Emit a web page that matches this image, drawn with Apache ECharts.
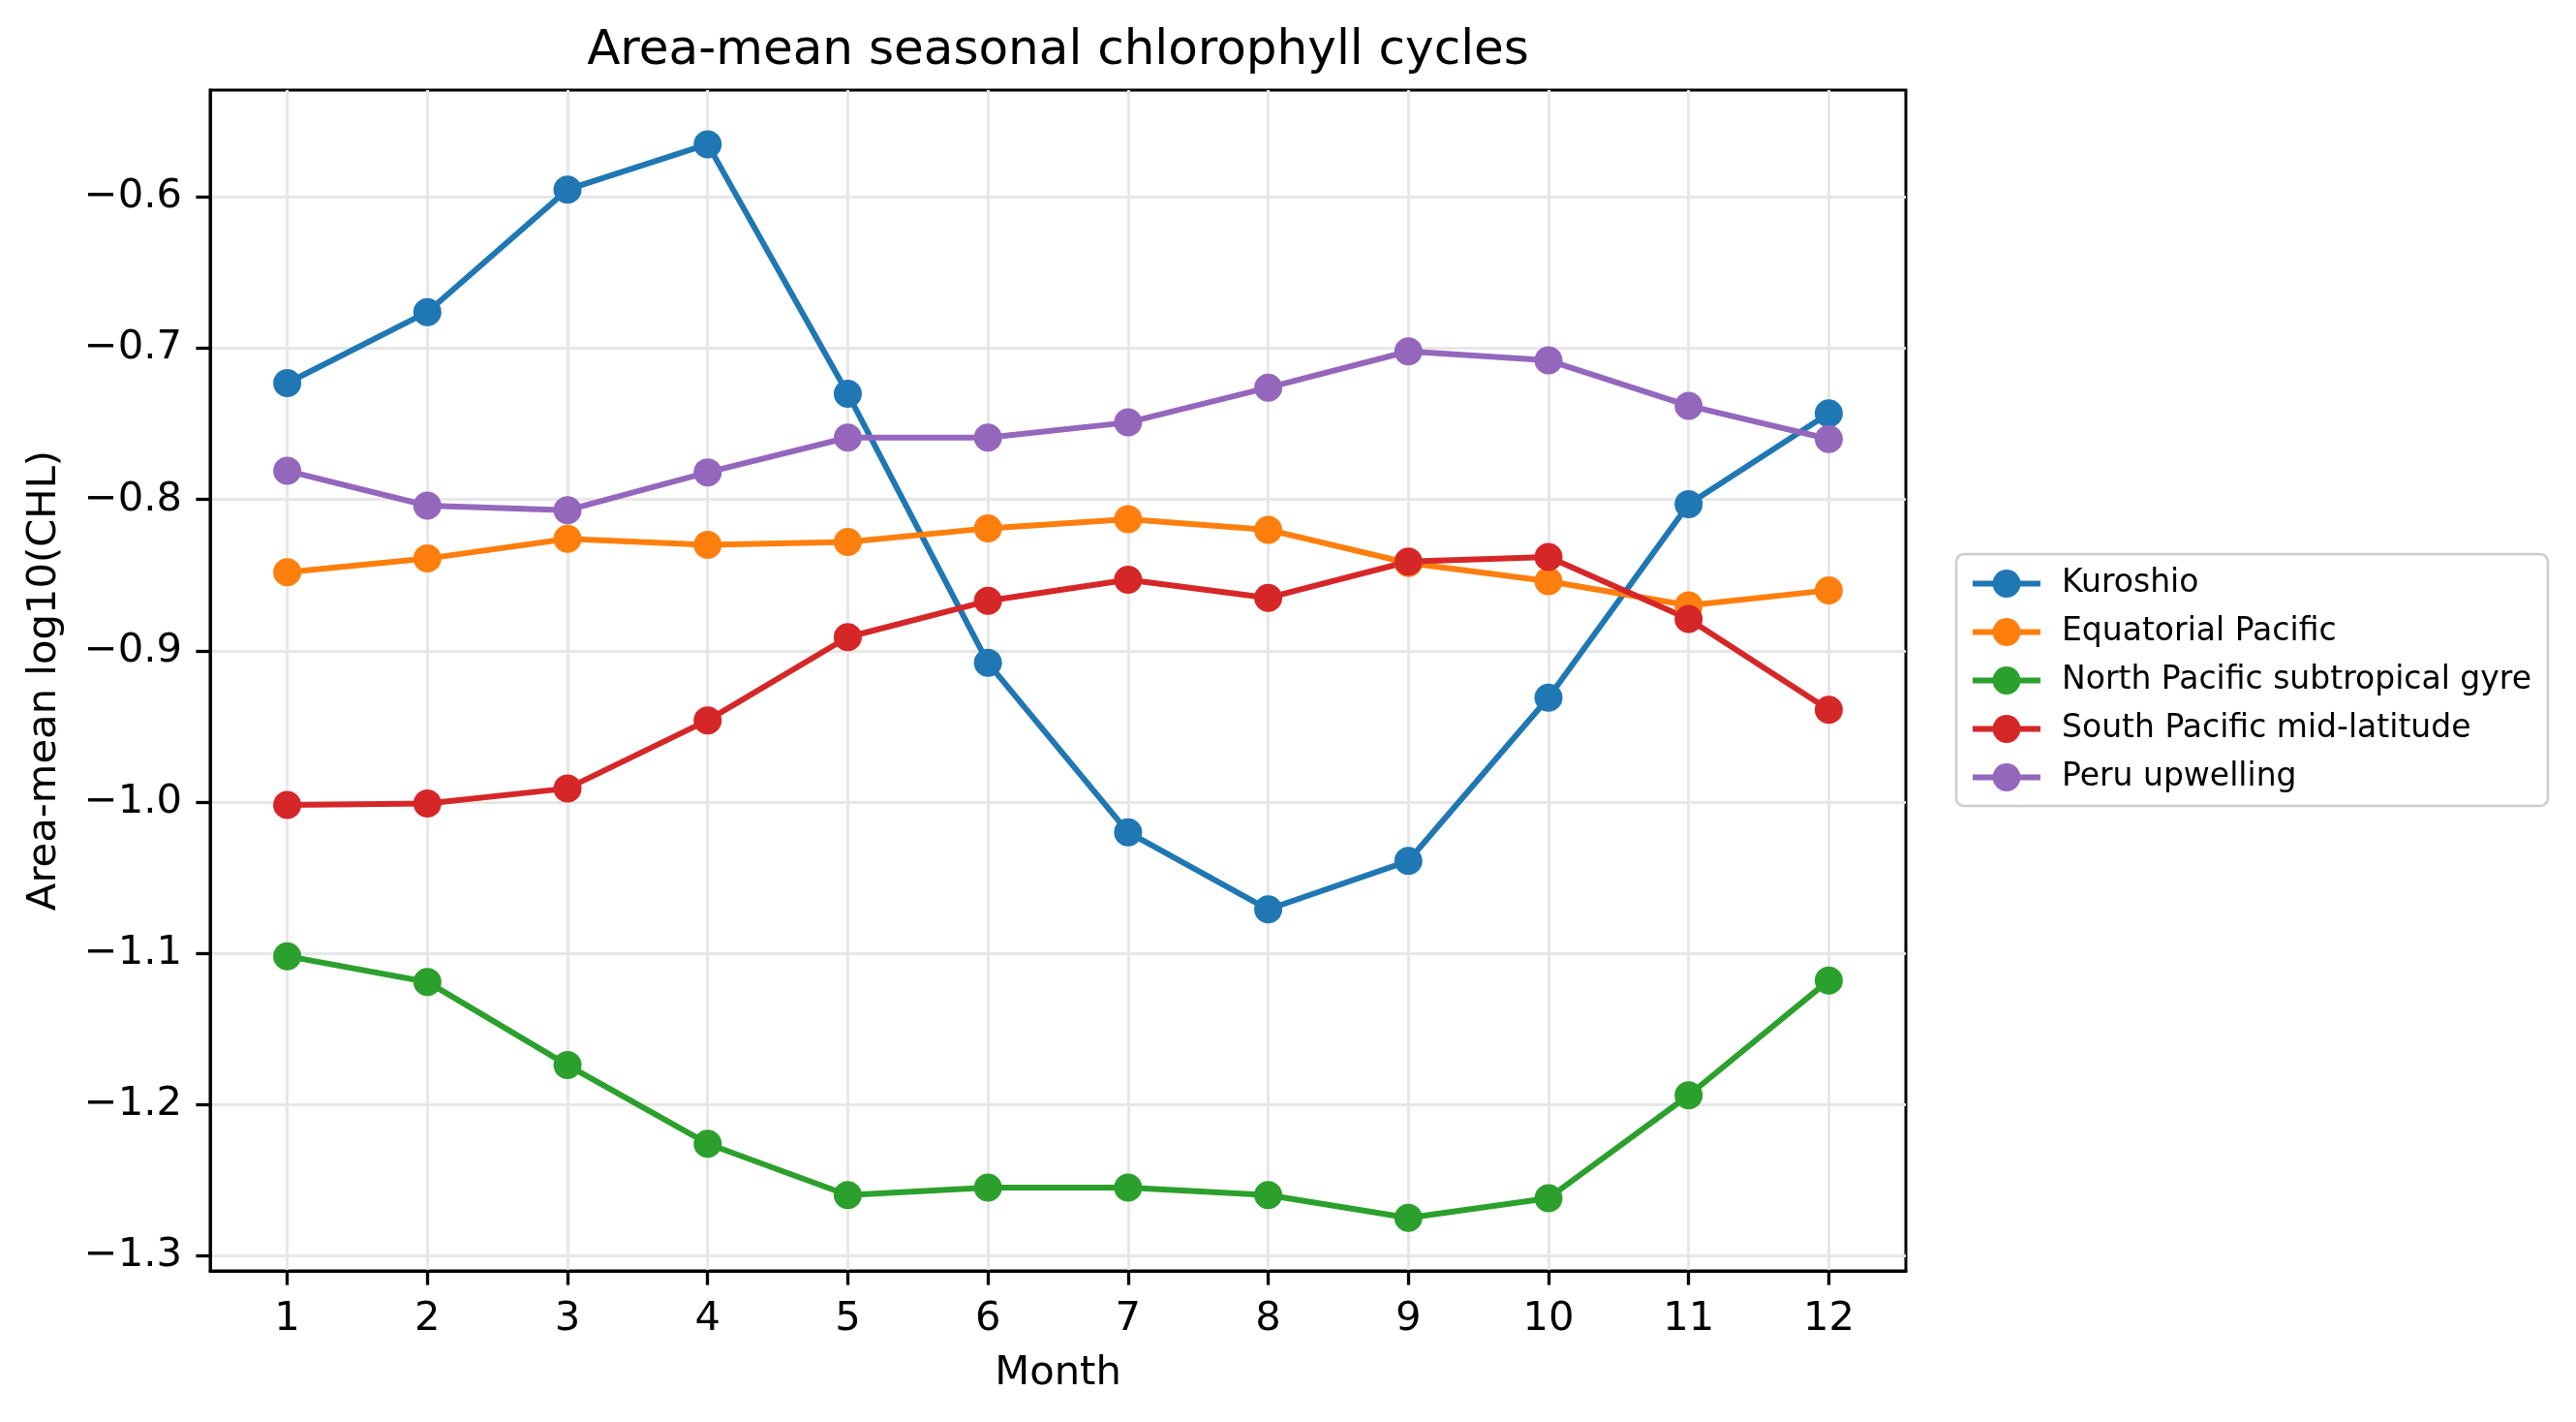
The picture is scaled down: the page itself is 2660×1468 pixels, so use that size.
<!DOCTYPE html>
<html>
<head>
<meta charset="utf-8">
<title>Area-mean seasonal chlorophyll cycles</title>
<script src="https://cdn.jsdelivr.net/npm/echarts@6/dist/echarts.min.js"></script>
<style>
  html, body { margin: 0; padding: 0; background: #fff; }
  #chart { width: 2660px; height: 1468px; }
</style>
</head>
<body>
<div id="chart"></div>
<script>
const months = [1, 2, 3, 4, 5, 6, 7, 8, 9, 10, 11, 12];
const yTicks = [-1.3, -1.2, -1.1, -1.0, -0.9, -0.8, -0.7, -0.6];

const kuroshio = [-0.723, -0.676, -0.595, -0.565, -0.730, -0.908, -1.020, -1.071, -1.039, -0.931, -0.803, -0.743];
const equatorialPacific = [-0.848, -0.839, -0.826, -0.830, -0.828, -0.819, -0.813, -0.820, -0.842, -0.854, -0.870, -0.860];
const northPacificGyre = [-1.102, -1.119, -1.174, -1.226, -1.260, -1.255, -1.255, -1.260, -1.275, -1.262, -1.194, -1.118];
const southPacificMidLat = [-1.002, -1.001, -0.991, -0.946, -0.891, -0.867, -0.853, -0.865, -0.841, -0.838, -0.879, -0.939];
const peruUpwelling = [-0.781, -0.804, -0.807, -0.782, -0.759, -0.759, -0.749, -0.726, -0.702, -0.708, -0.738, -0.760];

const seriesNames = ['Kuroshio', 'Equatorial Pacific', 'North Pacific subtropical gyre', 'South Pacific mid-latitude', 'Peru upwelling'];
const seriesValues = [kuroshio, equatorialPacific, northPacificGyre, southPacificMidLat, peruUpwelling];
const colors = ['#1f77b4', '#ff7f0e', '#2ca02c', '#d62728', '#9467bd'];

const FONT = 'DejaVu Sans';
const fmtTick = v => (v < 0 ? '\u2212' : '') + Math.abs(v).toFixed(1);

// plot box, matching the matplotlib axes
const gridLeft = 217, gridRight = 692, gridTop = 93, gridBottom = 156;

const chart = echarts.init(document.getElementById('chart'), null, { renderer: 'canvas' });

chart.setOption({
  animation: false,
  backgroundColor: '#ffffff',
  color: colors,
  textStyle: { fontFamily: FONT },
  graphic: [
    {
      type: 'text',
      x: gridLeft + (2660 - gridLeft - gridRight) / 2,
      y: 53,
      style: {
        text: 'Area-mean seasonal chlorophyll cycles',
        font: '50px "DejaVu Sans"',
        fill: '#000',
        textAlign: 'center',
        textVerticalAlign: 'middle'
      }
    }
  ],
  grid: {
    left: gridLeft, right: gridRight, top: gridTop, bottom: gridBottom,
    show: true, borderColor: '#000', borderWidth: 3, backgroundColor: 'transparent'
  },
  legend: {
    orient: 'vertical',
    left: 2020,
    top: 572,
    padding: [14, 17, 13, 14],
    itemWidth: 70,
    itemHeight: 36,
    itemGap: 17,
    borderColor: '#cccccc',
    borderWidth: 2.5,
    borderRadius: 8,
    backgroundColor: 'rgba(255,255,255,0.8)',
    lineStyle: { width: 6 },
    textStyle: { fontFamily: FONT, fontSize: 33, color: '#000', padding: [0, 0, 0, 17] },
    data: seriesNames
  },
  xAxis: {
    type: 'value',
    min: 0.45,
    max: 12.55,
    splitNumber: 12,
    name: 'Month',
    nameLocation: 'middle',
    nameGap: 85,
    nameTextStyle: { fontFamily: FONT, fontSize: 41.7, color: '#000' },
    axisLine: { show: true, lineStyle: { color: '#000', width: 3 } },
    axisTick: { show: true, customValues: months, length: 14.6, lineStyle: { color: '#000', width: 3.3 } },
    axisLabel: { customValues: months, margin: 29, fontFamily: FONT, fontSize: 41.7, color: '#000' },
    splitLine: { show: true, lineStyle: { color: '#e7e7e7', width: 3 } }
  },
  yAxis: {
    type: 'value',
    min: -1.3101,
    max: -0.5292,
    splitNumber: 8,
    name: 'Area-mean log10(CHL)',
    nameLocation: 'middle',
    nameGap: 150,
    nameTextStyle: { fontFamily: FONT, fontSize: 41.7, color: '#000' },
    axisLine: { show: true, lineStyle: { color: '#000', width: 3 } },
    axisTick: { show: true, customValues: yTicks, length: 14.6, lineStyle: { color: '#000', width: 3.3 } },
    axisLabel: { customValues: yTicks, margin: 29, fontFamily: FONT, fontSize: 41.7, color: '#000', formatter: fmtTick },
    splitLine: { show: true, lineStyle: { color: '#e7e7e7', width: 3 } }
  },
  series: seriesNames.map((name, i) => ({
    name: name,
    type: 'line',
    data: months.map((m, j) => [m, seriesValues[i][j]]),
    symbol: 'circle',
    symbolSize: 29,
    showSymbol: true,
    lineStyle: { width: 6, color: colors[i] },
    itemStyle: { color: colors[i] },
    emphasis: { disabled: true }
  }))
});
</script>
</body>
</html>
